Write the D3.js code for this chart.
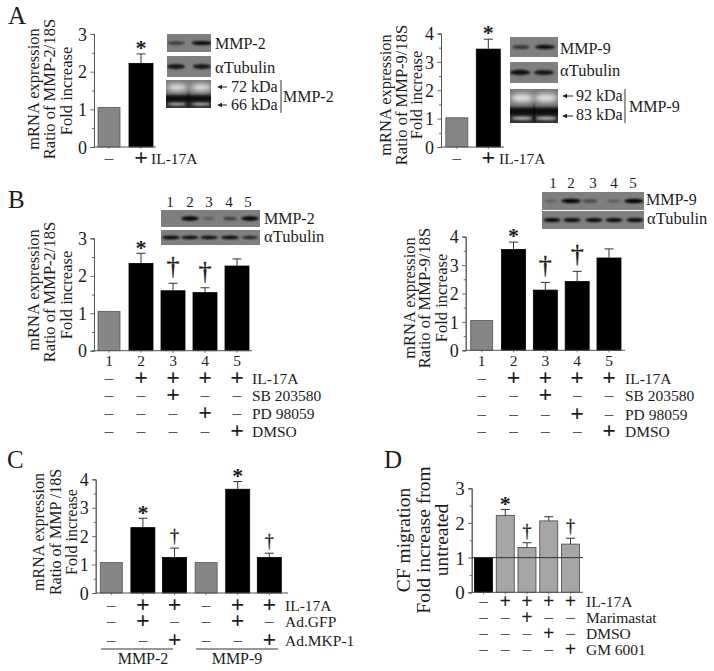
<!DOCTYPE html>
<html><head><meta charset="utf-8">
<style>html,body{margin:0;padding:0;background:#fff}svg{display:block}text{font-family:"Liberation Serif",serif;fill:#1c1c1c}</style>
<script src="https://cdn.jsdelivr.net/npm/d3@7/dist/d3.min.js"></script>
</head><body><script>
// ---- values ----
const aLeftValues=[1.05,2.22], aLeftErr=[null,2.47], aLeftMarks=[null,"*"];
const aRightValues=[1.03,3.45], aRightErr=[null,3.8], aRightMarks=[null,"*"];
const bLeftValues=[1.05,2.33,1.6,1.55,2.26], bLeftErr=[null,2.6,1.8,1.68,2.45], bLeftMarks=[null,"*","†","†",null];
const bRightValues=[1.05,3.55,2.12,2.42,3.25], bRightErr=[null,3.81,2.39,2.78,3.57], bRightMarks=[null,"*","†","†",null];
const cValues=[1.07,2.3,1.25,1.07,3.65,1.25], cErr=[null,2.63,1.58,null,3.92,1.4], cMarks=[null,"*","†",null,"*","†"];
const dValues=[1,2.22,1.29,2.06,1.39], dErr=[null,2.39,1.43,2.18,1.56], dMarks=[null,"*","†",null,"†"];
const laneLabels=["1","2","3","4","5"];
const ab=[{n:"IL-17A",s:[0,1]}];
const bRows=[{n:"IL-17A",s:[0,1,1,1,1]},{n:"SB 203580",s:[0,0,1,0,0]},{n:"PD 98059",s:[0,0,0,1,0]},{n:"DMSO",s:[0,0,0,0,1]}];
const cRows=[{n:"IL-17A",s:[0,1,1,0,1,1]},{n:"Ad.GFP",s:[0,1,0,0,1,0]},{n:"Ad.MKP-1",s:[0,0,1,0,0,1]}];
const dRows=[{n:"IL-17A",s:[0,1,1,1,1]},{n:"Marimastat",s:[0,0,1,0,0]},{n:"DMSO",s:[0,0,0,1,0]},{n:"GM 6001",s:[0,0,0,0,1]}];
const blotA2=[.55,.9], blotATub=[.8,.8], blotA9=[.55,.85], blotA9Tub=[.85,.8];
const blotB2=[.03,.98,.3,.5,.98], blotB2Tub=[.95,.9,.9,.95,.8];
const blotB9=[.25,.98,.45,.3,.98], blotB9Tub=[.9,.9,.9,.9,.9];

const svg=d3.select("body").append("svg").attr("width",714).attr("height",671).attr("viewBox","0 0 714 671");
const defs=svg.append("defs");
[["b1",1.1],["b2",2.4]].forEach(([id,s])=>defs.append("filter").attr("id",id).attr("x","-40%").attr("y","-150%").attr("width","180%").attr("height","400%")
  .append("feGaussianBlur").attr("stdDeviation",s));
let clipN=0;
function T(x,y,s,size,anchor){return svg.append("text").attr("x",x).attr("y",y).attr("font-size",size).attr("text-anchor",anchor||"start").text(s);}
function V(x,y,s,size){return svg.append("text").attr("transform",`translate(${x},${y}) rotate(-90)`).attr("font-size",size).attr("text-anchor","middle").text(s);}

function panel(o){
  const g=svg.append("g");
  const y=d3.scaleLinear().domain([0,o.max]).range([o.y0,o.yTop]);
  const x=d3.scalePoint().domain(d3.range(o.values.length)).range(o.cx);
  const minor=d3.range(.5,o.max,1), major=d3.range(0,o.max+1);
  const axM=g.append("g").attr("transform",`translate(${o.ax},0)`).call(d3.axisLeft(y).tickValues(minor).tickSize(2).tickFormat(""));
  const axG=g.append("g").attr("transform",`translate(${o.ax},0)`).call(d3.axisLeft(y).tickValues(major).tickSize(3.5).tickPadding(3.5).tickFormat(d3.format("d")));
  [axM,axG].forEach(a=>{a.selectAll("path,line").attr("stroke","#555").attr("stroke-width",.9);});
  axG.selectAll("text").attr("font-size",o.tick||18).attr("dy","0.34em").style("font-family",'"Liberation Serif",serif');
  g.selectAll(".bar").data(o.values).join("rect").attr("class","bar")
    .attr("x",(d,i)=>x(i)-o.w(i)/2).attr("width",(d,i)=>o.w(i)).attr("y",d=>y(d)).attr("height",d=>o.y0-y(d))
    .attr("fill",(d,i)=>o.fill(i)).attr("stroke",(d,i)=>o.stroke(i)).attr("stroke-width",.8);
  o.err.forEach((e,i)=>{ if(e==null)return;
    g.append("line").attr("x1",x(i)).attr("x2",x(i)).attr("y1",y(o.values[i])).attr("y2",y(e)).attr("stroke","#333").attr("stroke-width",1);
    g.append("line").attr("x1",x(i)-4.5).attr("x2",x(i)+4.5).attr("y1",y(e)).attr("y2",y(e)).attr("stroke","#333").attr("stroke-width",1);
  });
  g.append("line").attr("x1",o.ax).attr("x2",o.xEnd).attr("y1",o.y0).attr("y2",o.y0).attr("stroke","#555").attr("stroke-width",1);
  o.values.forEach((v,i)=>g.append("line").attr("x1",x(i)).attr("x2",x(i)).attr("y1",o.y0).attr("y2",o.y0+2).attr("stroke","#555").attr("stroke-width",.8));
  o.marks.forEach((m,i)=>{ if(!m)return; const top=y(o.err[i]);
    if(m==="*") T(x(i),top+1.3,"*",22,"middle").attr("font-weight","bold");
    else T(x(i),top-o.dagGap,"†",o.dagSize,"middle").style("stroke","#1c1c1c").style("stroke-width",.3);
  });
  if(o.rows) o.rows.forEach((r,ri)=>{
    r.s.forEach((s,i)=>{
      if(s) T(x(i),o.rowY[ri]+6,"+",o.plus||24,"middle").attr("font-weight","bold");
      else T(x(i),o.rowY[ri]+4,"–",17,"middle").style("fill","#555");
    });
    T(o.rowLabelX,o.rowY[ri]+5,r.n,15.5);
  });
  if(o.numbers) o.numbers.forEach((n,i)=>T(x(i),o.numY,n,15.5,"middle"));
  return {x,y};
}

function blot(x0,y0,x1,y1,lanes,vals,h,bw){
  const id="c"+(clipN++);
  defs.append("clipPath").attr("id",id).append("rect").attr("x",x0).attr("y",y0).attr("width",x1-x0).attr("height",y1-y0);
  const g=svg.append("g").attr("clip-path",`url(#${id})`);
  g.append("rect").attr("x",x0).attr("y",y0).attr("width",x1-x0).attr("height",y1-y0).attr("fill","#7f7f7f");
  const cy=(y0+y1)/2;
  lanes.forEach((lx,i)=>{
    const v=vals[i];
    g.append("ellipse").attr("cx",lx).attr("cy",cy).attr("rx",bw*(.55+.45*v)).attr("ry",h*(.6+.4*v))
      .attr("fill","#000").attr("opacity",Math.min(1,v*1.05)).attr("filter","url(#b1)");
  });
}
function zymo(x0,y0,x1,y1,lanes,bw){
  const id="c"+(clipN++), H=y1-y0;
  defs.append("clipPath").attr("id",id).append("rect").attr("x",x0).attr("y",y0).attr("width",x1-x0).attr("height",H);
  const g=svg.append("g").attr("clip-path",`url(#${id})`);
  g.append("rect").attr("x",x0).attr("y",y0).attr("width",x1-x0).attr("height",H).attr("fill","#333");
  g.append("rect").attr("x",x0-5).attr("y",y0-5).attr("width",x1-x0+10).attr("height",H*.55+5).attr("fill","#7a7a7a").attr("filter","url(#b2)");
  g.append("rect").attr("x",x0-5).attr("y",y0+H*.56).attr("width",x1-x0+10).attr("height",H*.2).attr("fill","#0c0c0c").attr("filter","url(#b1)");
  lanes.forEach(lx=>{
    g.append("ellipse").attr("cx",lx).attr("cy",y0+H*.26).attr("rx",bw*1.15).attr("ry",H*.12).attr("fill","#e4e4e4").attr("filter","url(#b2)");
    g.append("ellipse").attr("cx",lx).attr("cy",y0+H*.86).attr("rx",bw).attr("ry",H*.05).attr("fill","#aaa").attr("filter","url(#b1)");
  });
  g.append("rect").attr("x",(x0+x1)/2-1).attr("y",y0+H*.45).attr("width",2).attr("height",H*.55).attr("fill","#000").attr("opacity",.5).attr("filter","url(#b1)");
}
function arrow(x1,x2,y){
  svg.append("line").attr("x1",x1+3).attr("x2",x2).attr("y1",y).attr("y2",y).attr("stroke","#222").attr("stroke-width",1);
  svg.append("path").attr("d",`M${x1},${y}l5,-2.2v4.4z`).attr("fill","#222");
}
const grey=i=>i===0?"#868686":"#000", greyS=i=>i===0?"#555":"#000";
const w1=i=>i===0?22:24;

// Panel letters
T(8,24,"A",25);T(8,208,"B",25);T(7,468,"C",25);T(384,468,"D",25);

// A left
panel({values:aLeftValues,err:aLeftErr,marks:aLeftMarks,max:3,y0:147,yTop:34,ax:94,xEnd:156,cx:[109,141],w:w1,fill:grey,stroke:greyS,
  rows:ab,rowY:[159],rowLabelX:151});
V(39,89,"mRNA expression",16.5);V(55,89,"Ratio of MMP-2/18S",16.5);V(71.5,91,"Fold increase",16.5);
blot(167,34,211,52,[176,202],blotA2,2.2,11);blot(167,56,211,77,[176,202],blotATub,2.6,10);zymo(166,80,211,108,[177,201],9);
T(215,49,"MMP-2",16);T(215,73,"αTubulin",16.5);
arrow(217,227,87);arrow(217,227,105);T(231,92,"72 kDa",16);T(231,110,"66 kDa",16);
svg.append("line").attr("x1",281).attr("x2",281).attr("y1",80).attr("y2",113).attr("stroke","#333");
T(283,102,"MMP-2",16);

// A right
panel({values:aRightValues,err:aRightErr,marks:aRightMarks,max:4,y0:147,yTop:33.5,ax:441,xEnd:504,cx:[456.8,488.3],w:w1,fill:grey,stroke:greyS,
  rows:ab,rowY:[159],rowLabelX:499});
V(391,95,"mRNA expression",16.5);V(407,95,"Ratio of MMP-9/18S",16.5);V(422,95,"Fold increase",16.5);
blot(510,37,558,57,[521,545],blotA9,2.4,11);blot(510,62,558,83,[520,544],blotA9Tub,2.8,11);zymo(510,89,558,123,[522,546],10);
T(560,54,"MMP-9",16);T(560,76,"αTubulin",16.5);
arrow(562,573,96);arrow(562,573,116);T(576,101,"92 kDa",16);T(576,120,"83 kDa",16);
svg.append("line").attr("x1",625).attr("x2",625).attr("y1",89).attr("y2",123).attr("stroke","#333");
T(629,112,"MMP-9",16);

// B left
panel({values:bLeftValues,err:bLeftErr,marks:bLeftMarks,max:3,y0:350.7,yTop:238.3,ax:94,xEnd:252,cx:[109,237],w:w1,fill:grey,stroke:greyS,dagGap:9,dagSize:26,
  rows:bRows,rowY:[379,396,414,432],rowLabelX:252,numbers:laneLabels,numY:366});
V(39,290,"mRNA expression",16.5);V(55,292,"Ratio of MMP-2/18S",16.5);V(71.5,295,"Fold increase",16.5);
[170,190,209,229,248].forEach((x,i)=>T(x,207,laneLabels[i],15,"middle"));
blot(161,210,260,227,[170,190,209,230,250],blotB2,2.2,9);blot(161,230,260,245,[171,190,209,230,250],blotB2Tub,1.7,9);
T(264,224,"MMP-2",16);T(264,242,"αTubulin",16.5);

// B right
panel({values:bRightValues,err:bRightErr,marks:bRightMarks,max:4,y0:350.3,yTop:236.7,ax:465.7,xEnd:625,cx:[481.7,609],w:w1,fill:grey,stroke:greyS,dagGap:9,dagSize:26,
  rows:bRows,rowY:[379,396,415,432],rowLabelX:625,numbers:laneLabels,numY:366});
V(414.5,298,"mRNA expression",16.5);V(430,298,"Ratio of MMP-9/18S",16.5);V(447,298,"Fold increase",16.5);
[553,571,593,614,633].forEach((x,i)=>T(x,188,laneLabels[i],15,"middle"));
blot(542,192,644,210,[551,571,590,614,634],blotB9,2.2,10);blot(542,211,644,229,[552,572,594,614,635],blotB9Tub,2.2,9);
T(646,205,"MMP-9",16);T(647,224,"αTubulin",16.5);

// C
panel({values:cValues,err:cErr,marks:cMarks,max:4,y0:593,yTop:479.3,ax:95.7,xEnd:288,cx:[111.3,269.3],w:i=>i%3===0?22:24,fill:i=>i%3===0?"#868686":"#000",stroke:i=>i%3===0?"#555":"#000",dagGap:6.5,dagSize:18,
  rows:cRows,rowY:[606,622,641],rowLabelX:285});
V(44,532,"mRNA expression",16);V(61,532,"Ratio of MMP /18S",16);V(77,532,"Fold increase",16);
[[101,173],[196,278]].forEach(([a,b])=>svg.append("line").attr("x1",a).attr("x2",b).attr("y1",649).attr("y2",649).attr("stroke","#333"));
T(143,664,"MMP-2",16,"middle");T(237,664,"MMP-9",16,"middle");

// D
const dp=panel({values:dValues,err:dErr,marks:dMarks,max:3,y0:592.3,yTop:488.3,ax:471.7,xEnd:583,cx:[483.5,570.5],w:()=>18,fill:i=>i===0?"#000":"#a6a6a6",stroke:i=>i===0?"#000":"#444",dagGap:6,dagSize:18,tick:19,plus:20,
  rows:dRows,rowY:[602,618,634,650],rowLabelX:586});
svg.append("line").attr("x1",471.7).attr("x2",583).attr("y1",dp.y(1)).attr("y2",dp.y(1)).attr("stroke","#333");
V(410,540,"CF migration",19.5);V(430,540,"Fold increase from",19.5);V(448,540,"untreated",19.5);
</script></body></html>
